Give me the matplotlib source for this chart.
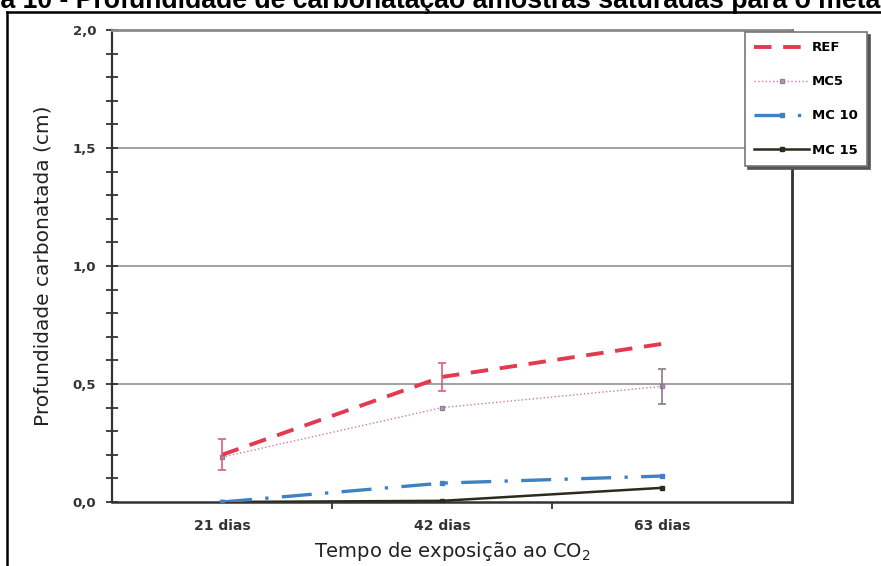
import numpy as np
import matplotlib
matplotlib.use('Agg')
import matplotlib.pyplot as plt
from matplotlib.lines import Line2D

plt.rcParams['font.family'] = ['DejaVu Sans']
plt.rcParams['mathtext.default'] = 'regular'

# dados
dias = ['21 dias', '42 dias', '63 dias']
ref = [0.20, 0.53, 0.67]
ref_err = [0.065, 0.06, 0.0]
mc5 = [0.19, 0.40, 0.49]
mc5_err = [0.0, 0.0, 0.075]
mc10 = [0.00, 0.08, 0.11]
mc15 = [0.00, 0.005, 0.06]
yticks = [0.0, 0.5, 1.0, 1.5, 2.0]
ytick_labels = ['0,0', '0,5', '1,0', '1,5', '2,0']
titulo = 'Figura 10 - Profundidade de carbonatação amostras saturadas para o metacaulim'

fig = plt.figure(figsize=(8.81, 5.66), dpi=100)
ax = fig.add_axes([112 / 881, 1 - 502 / 566, (792 - 112) / 881, (502 - 30) / 566])

x = np.arange(len(dias))

# grade
for g in yticks[1:-1]:
    ax.axhline(g, color='#9a9a9a', lw=1.3, zorder=1)

ax.plot(x, mc15, color='#2b2b1e', lw=1.8, marker='s', ms=3, label='MC 15', zorder=3)
ax.plot(x, mc10, color='#3f82c4', lw=2.4, dashes=(9, 4, 1, 4), marker='s', ms=3.5,
        label='MC 10', zorder=3)
ax.plot(x, mc5, color='#c77ab8', lw=1.0, ls=':', marker='s', ms=3, mfc='#b0a0b0',
        mec='#9a7a9a', label='MC5', zorder=4)
ax.plot(x, ref, color='#e23a4e', lw=2.8, dashes=(4.5, 3), label='REF', zorder=5)

# barras de erro
r_idx = [i for i, e in enumerate(ref_err) if e > 0]
ax.errorbar(x[r_idx], np.array(ref)[r_idx], yerr=np.array(ref_err)[r_idx], fmt='none',
            ecolor='#d9607a', elinewidth=1.2, capsize=3, capthick=1.2, zorder=6)
m_idx = [i for i, e in enumerate(mc5_err) if e > 0]
ax.errorbar(x[m_idx], np.array(mc5)[m_idx], yerr=np.array(mc5_err)[m_idx], fmt='none',
            ecolor='#8a7a8a', elinewidth=1.2, capsize=3, capthick=1.2, zorder=6)

ax.set_xlim(-0.5, 2.59)
ax.set_ylim(0, 2.0)

ax.set_yticks(yticks)
ax.set_yticklabels(ytick_labels, fontsize=9.5, fontweight='bold', color='#333333')
ax.set_yticks(np.arange(0, 2.01, 0.1), minor=True)
ax.tick_params(axis='y', which='both', direction='inout', length=9, width=1.3,
               color='#333333', pad=7)

ax.set_xticks(x)
ax.set_xticklabels(dias, fontsize=10, fontweight='bold', color='#333333')
ax.set_xticks([0.5, 1.5], minor=True)
ax.tick_params(axis='x', which='major', length=0, pad=12)
ax.tick_params(axis='x', which='minor', direction='out', length=5, width=1.3, color='#333333')

ax.spines['left'].set_color('#333333')
ax.spines['left'].set_linewidth(1.6)
ax.spines['bottom'].set_color('#333333')
ax.spines['bottom'].set_linewidth(1.8)
ax.spines['top'].set_color('#8a8a8a')
ax.spines['top'].set_linewidth(2.0)
ax.spines['right'].set_color('#333333')
ax.spines['right'].set_linewidth(2.0)

ax.set_ylabel('Profundidade carbonatada (cm)', fontsize=14.5, color='#222222', labelpad=14)
ax.set_xlabel('Tempo de exposição ao CO$_2$', fontsize=14, color='#222222', labelpad=5)

handles, labels = ax.get_legend_handles_labels()
order = [3, 2, 1, 0]
leg = fig.legend([handles[i] for i in order], [labels[i] for i in order],
                 loc='upper right', bbox_to_anchor=(867 / 881, 1 - 32 / 566),
                 frameon=True, fancybox=False, shadow={'color': '#555555', 'alpha': 1},
                 edgecolor='#777777', framealpha=1, handlelength=4.1,
                 prop={'size': 9.5, 'weight': 'bold'}, labelspacing=1.6,
                 borderpad=0.7, handletextpad=0.25, borderaxespad=0)
leg.get_frame().set_linewidth(1.2)

# moldura externa
fig.add_artist(Line2D([7 / 881, 7 / 881], [0, 1 - 12 / 566], transform=fig.transFigure,
                      color='black', lw=1.8))
fig.add_artist(Line2D([7 / 881, 1], [1 - 12 / 566, 1 - 12 / 566], transform=fig.transFigure,
                      color='black', lw=1.8))

# título (cortado nas bordas, como na imagem original)
r = fig.canvas.get_renderer()
tfont = ['Liberation Sans', 'DejaVu Sans']
t_vis = fig.text(0, 0, titulo[5:-6], fontsize=10, fontweight='bold', family=tfont)
w_vis = t_vis.get_window_extent(r).width
t_vis.remove()
fs = 10 * 881 / w_vis
t_pre = fig.text(0, 0, titulo[:5], fontsize=fs, fontweight='bold', family=tfont)
w_pre = t_pre.get_window_extent(r).width
t_pre.remove()
fig.text(-w_pre / 881, 1 - 8 / 566, titulo, ha='left', va='baseline', fontsize=fs,
         fontweight='bold', family=tfont)

fig.savefig('out.png', dpi=100)
